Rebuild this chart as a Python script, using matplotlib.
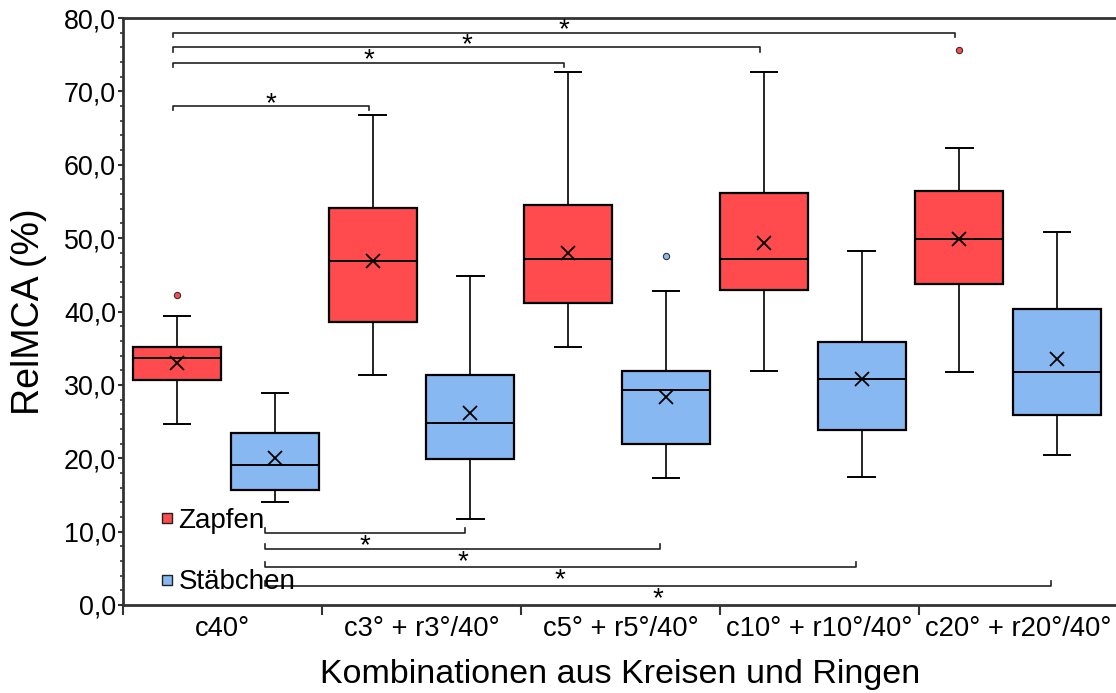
import matplotlib
matplotlib.use("Agg")
import matplotlib.pyplot as plt
from matplotlib.lines import Line2D
import numpy as np

plt.rcParams['font.family'] = ['Liberation Sans', 'DejaVu Sans']

# -----------------------------
# DATA
# -----------------------------
categories = ["c40°", "c3° + r3°/40°", "c5° + r5°/40°",
              "c10° + r10°/40°", "c20° + r20°/40°"]

# Zapfen (red)
zap_wlo = [24.6, 31.3, 35.2, 31.9, 31.8]
zap_q1 = [30.6, 38.6, 41.1, 42.9, 43.8]
zap_med = [33.6, 46.9, 47.1, 47.1, 49.9]
zap_q3 = [35.1, 54.1, 54.5, 56.1, 56.4]
zap_whi = [39.4, 66.8, 72.6, 72.7, 62.3]
zap_mean = [33.0, 46.9, 48.0, 49.3, 49.9]
zap_fliers = [[42.2], [], [], [], [75.7]]

# Stäbchen (blue)
sta_wlo = [14.1, 11.7, 17.3, 17.5, 20.4]
sta_q1 = [15.7, 19.9, 22.0, 23.9, 25.9]
sta_med = [19.1, 24.8, 29.3, 30.8, 31.8]
sta_q3 = [23.4, 31.3, 31.9, 35.8, 40.4]
sta_whi = [28.9, 44.9, 42.8, 48.2, 50.8]
sta_mean = [20.0, 26.2, 28.4, 30.8, 33.5]
sta_fliers = [[], [], [47.5], [], []]

# significance brackets: (from box, to box, level)
top_brackets = [(0, 2, 68.0), (0, 4, 73.9), (0, 6, 76.0), (0, 8, 78.0)]
bottom_brackets = [(1, 3, 9.8), (1, 5, 7.6), (1, 7, 5.2), (1, 9, 2.6)]

RED = "#ff4b4e"
BLUE = "#88b8f2"


def make_stats(wlo, q1, med, q3, whi, mean, fliers):
    out = []
    for i in range(len(wlo)):
        out.append(dict(whislo=wlo[i], q1=q1[i], med=med[i], q3=q3[i],
                        whishi=whi[i], mean=mean[i], fliers=fliers[i]))
    return out


zap_stats = make_stats(zap_wlo, zap_q1, zap_med, zap_q3, zap_whi, zap_mean, zap_fliers)
sta_stats = make_stats(sta_wlo, sta_q1, sta_med, sta_q3, sta_whi, sta_mean, sta_fliers)

# interleave red / blue per category
stats = []
colors = []
for z, s in zip(zap_stats, sta_stats):
    stats += [z, s]
    colors += [RED, BLUE]
positions = np.arange(len(stats))

# -----------------------------
# PLOT
# -----------------------------
fig = plt.figure(figsize=(11.16, 6.93), dpi=100)
ax = fig.add_axes([123 / 1116, 88 / 693, 995 / 1116, 587 / 693])

res = ax.bxp(stats, positions=positions, widths=0.9, capwidths=0.27,
             patch_artist=True, showmeans=True,
             boxprops=dict(edgecolor="black", linewidth=1.6),
             medianprops=dict(color="black", linewidth=1.4),
             whiskerprops=dict(color="black", linewidth=1.2),
             capprops=dict(color="black", linewidth=1.4),
             meanprops=dict(marker="x", markeredgecolor="black",
                            markersize=9.5, markeredgewidth=1.3),
             flierprops=dict(marker="o", markersize=4.5,
                             markeredgecolor="#333333", markeredgewidth=0.8))

for patch, fl, c in zip(res["boxes"], res["fliers"], colors):
    patch.set_facecolor(c)
    fl.set_markerfacecolor(c)

# brackets
star_fs = 20
for a, b, lvl in top_brackets:
    x0, x1 = positions[a] - 0.04, positions[b] - 0.04
    ax.plot([x0, x0, x1, x1], [lvl - 0.6, lvl, lvl, lvl - 0.6],
            color="#222222", linewidth=1.2)
    ax.text((x0 + x1) / 2, lvl + 0.3, "*", ha="center", va="center",
            fontsize=star_fs)

for a, b, lvl in bottom_brackets:
    x0, x1 = positions[a] - 0.1, positions[b] - 0.06
    ax.plot([x0, x0, x1, x1], [lvl + 0.7, lvl, lvl, lvl + 0.7],
            color="#222222", linewidth=1.2)
    ax.text((x0 + x1) / 2, lvl - 1.8, "*", ha="center", va="center",
            fontsize=star_fs)

# axes
xmin, xmax = -0.552, 9.622
ax.set_xlim(xmin, xmax)
ax.set_ylim(0, 80)

bounds = np.linspace(xmin, xmax, len(categories) + 1)
mids = (bounds[:-1] + bounds[1:]) / 2
ax.set_xticks(bounds)
ax.set_xticklabels([])
ax.set_xticks(mids, minor=True)
ax.set_xticklabels(categories, minor=True, fontsize=19.7)
ax.tick_params(axis="x", which="major", direction="out", length=7,
               width=1.5, color="#333333")
ax.tick_params(axis="x", which="minor", length=0, pad=8)

yt = np.arange(0, 81, 10)
ax.set_yticks(yt)
ax.set_yticklabels([f"{v:.1f}".replace(".", ",") for v in yt], fontsize=19.4)
ax.set_yticks(np.arange(0, 81, 2), minor=True)
ax.tick_params(axis="y", which="major", direction="out", length=3.5,
               width=1.5, pad=1.5, color="#333333")
ax.tick_params(axis="y", which="minor", direction="out", length=2.2,
               width=1.2, color="#333333")

for side in ["left", "bottom", "top"]:
    ax.spines[side].set_color("#333333")
    ax.spines[side].set_linewidth(2)
ax.spines["right"].set_visible(False)

ax.set_ylabel("RelMCA (%)", fontsize=27, labelpad=12)
ax.set_xlabel("Kombinationen aus Kreisen und Ringen", fontsize=24.5, labelpad=12)

handles = [Line2D([], [], marker="s", linestyle="none", markersize=7,
                  markerfacecolor=RED, markeredgecolor="#222222"),
           Line2D([], [], marker="s", linestyle="none", markersize=7,
                  markerfacecolor=BLUE, markeredgecolor="#222222")]
ax.legend(handles, ["Zapfen", "Stäbchen"], loc="upper left",
          bbox_to_anchor=(0.037, 0.166), frameon=False, fontsize=20,
          handlelength=0.55, handletextpad=0.12, labelspacing=1.29,
          borderpad=0, borderaxespad=0)

fig.savefig("out.png", dpi=100)
